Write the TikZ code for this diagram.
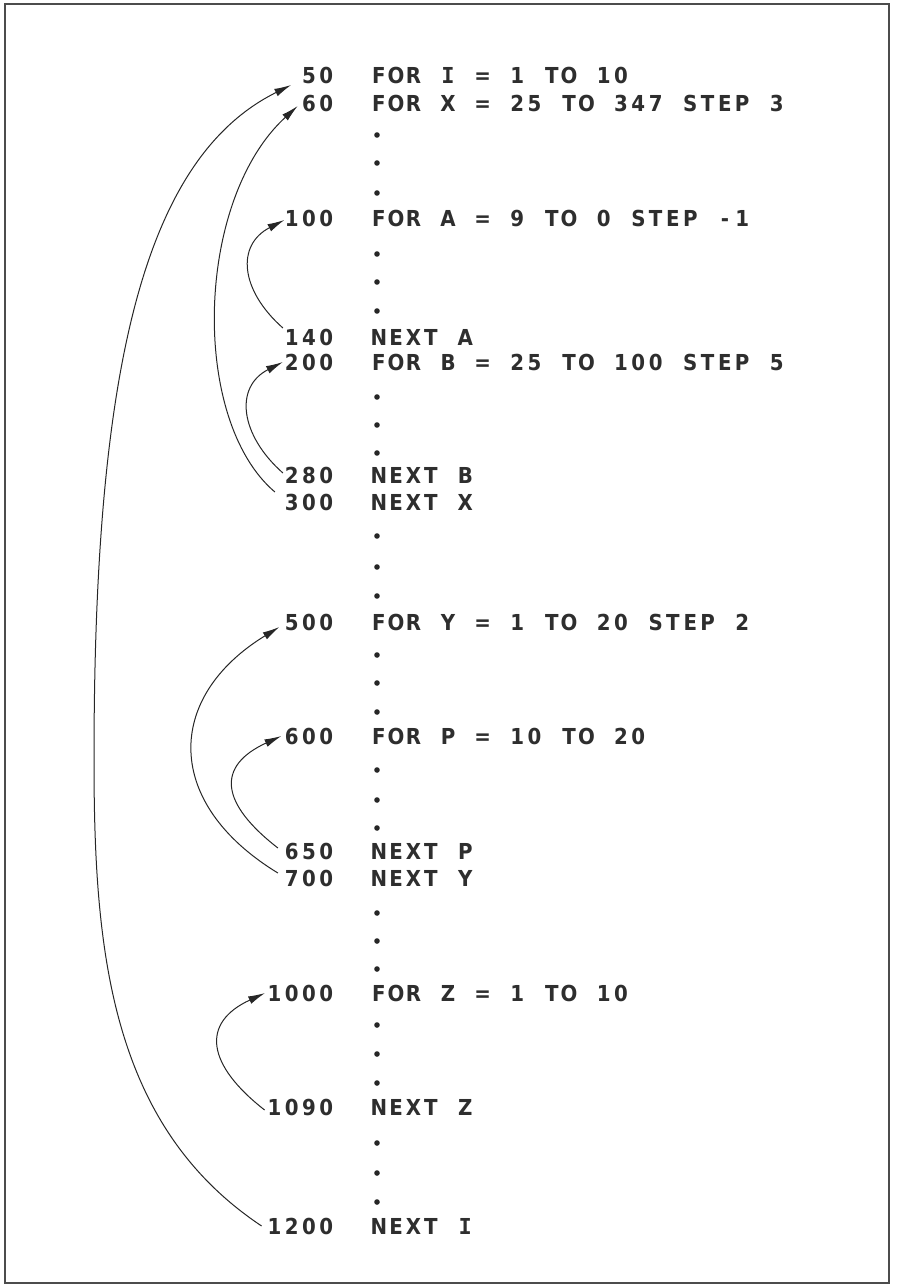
\documentclass[tikz,border=0pt]{standalone}
\usepackage{fontspec}
\usetikzlibrary{arrows.meta,calc}
\newfontfamily\basicfont{DejaVu Sans Condensed Bold}
\newfontfamily\basicmono{DejaVu Sans Mono Bold}
\ExplSyntaxOn
\NewDocumentCommand\basic{m}
 {
  \str_map_inline:nn {#1}
   {
    \makebox[17.3pt][c]{ \str_if_eq:nnTF {##1}{I}{\basicmono I}{##1} }
   }
 }
\ExplSyntaxOff
\tikzset{
  num/.style={anchor=base east, inner sep=0pt, font=\basicfont\fontsize{22}{24}\selectfont, text=black!82},
  stmt/.style={anchor=base west, inner sep=0pt, font=\basicfont\fontsize{22}{24}\selectfont, text=black!82},
  arr/.style={-{Latex[length=17pt,width=8pt]}, line width=1pt, draw=black!85},
  dotmark/.style={circle, fill=black!85, inner sep=0pt, minimum size=5.6pt},
  frame/.style={line width=1.3pt, draw=black!70}
}
\begin{document}
\begin{tikzpicture}[x=1pt,y=-1pt]
\useasboundingbox (0,0) rectangle (898,1288);
\draw[frame] (5,4) rectangle (889,1283);

% line numbers
\node[num] (n50)   at (335.2,83)   {\basic{50}};
\node[num] (n60)   at (335.2,111)  {\basic{60}};
\node[num] (n100)  at (335.2,226)  {\basic{100}};
\node[num] (n140)  at (335.2,345)  {\basic{140}};
\node[num] (n200)  at (335.2,370)  {\basic{200}};
\node[num] (n280)  at (335.2,483)  {\basic{280}};
\node[num] (n300)  at (335.2,510)  {\basic{300}};
\node[num] (n500)  at (335.2,630)  {\basic{500}};
\node[num] (n600)  at (335.2,744)  {\basic{600}};
\node[num] (n650)  at (335.2,859)  {\basic{650}};
\node[num] (n700)  at (335.2,886)  {\basic{700}};
\node[num] (n1000) at (335.2,1001) {\basic{1000}};
\node[num] (n1090) at (335.2,1115) {\basic{1090}};
\node[num] (n1200) at (335.2,1234) {\basic{1200}};

% statements
\node[stmt] (s50)   at (370,83)   {\basic{FOR I = 1 TO 10}};
\node[stmt] (s60)   at (370,111)  {\basic{FOR X = 25 TO 347 STEP 3}};
\node[stmt] (s100)  at (370,226)  {\basic{FOR A = 9 TO 0 STEP -1}};
\node[stmt] (s140)  at (370,345)  {\basic{NEXT A}};
\node[stmt] (s200)  at (370,370)  {\basic{FOR B = 25 TO 100 STEP 5}};
\node[stmt] (s280)  at (370,483)  {\basic{NEXT B}};
\node[stmt] (s300)  at (370,510)  {\basic{NEXT X}};
\node[stmt] (s500)  at (370,630)  {\basic{FOR Y = 1 TO 20 STEP 2}};
\node[stmt] (s600)  at (370,744)  {\basic{FOR P = 10 TO 20}};
\node[stmt] (s650)  at (370,859)  {\basic{NEXT P}};
\node[stmt] (s700)  at (370,886)  {\basic{NEXT Y}};
\node[stmt] (s1000) at (370,1001) {\basic{FOR Z = 1 TO 10}};
\node[stmt] (s1090) at (370,1115) {\basic{NEXT Z}};
\node[stmt] (s1200) at (370,1234) {\basic{NEXT I}};

% ellipsis dots
\foreach \y in {135,163,193, 254,282,311, 397,425,453, 536,567,596,
                655,683,712, 770,800,828, 913,941,969, 1025,1054,1083,
                1143,1173,1202}
  \node[dotmark] at (377,\y) {};

% loop arrows
\draw[arr] ($(n1200.west)+(-4,0)$) .. controls (110,1125) and (94,950) .. (94,760)
           .. controls (94,380) and (140,160) .. ($(n50.west)+(-9,10)$);
\draw[arr] ($(n300.west)+(-8,-10)$) .. controls (190,420) and (195,200) .. ($(n60.west)+(-2.5,3)$);
\draw[arr] ($(n140.west)+(0,-9)$) .. controls (240,290) and (236,245) .. ($(n100.west)+(1.5,2)$);
\draw[arr] ($(n280.west)+(0,-2)$) .. controls (240,435) and (234,387) .. ($(n200.west)+(0,0)$);
\draw[arr] ($(n700.west)+(-5,-5)$) .. controls (163,803) and (165,697) .. ($(n500.west)+(-3.5,5)$);
\draw[arr] ($(n650.west)+(-5,-3)$) .. controls (220,803) and (216,766) .. ($(n600.west)+(-1.5,0)$);
\draw[arr] ($(n1090.west)+(-1,3)$) .. controls (207,1065) and (200,1023) .. ($(n1000.west)+(-0.5,0)$);
\end{tikzpicture}
\end{document}
